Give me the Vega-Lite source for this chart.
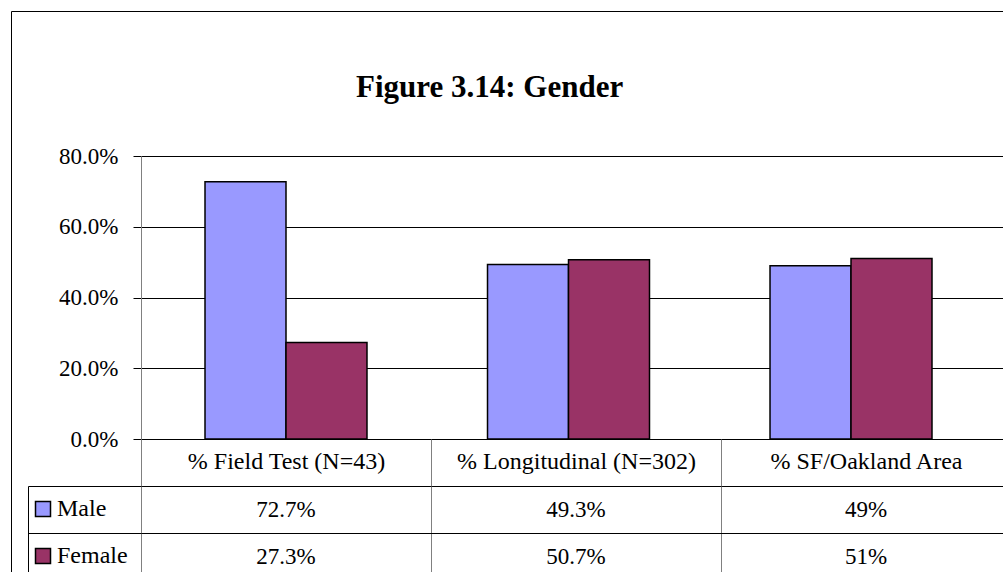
{
  "$schema": "https://vega.github.io/schema/vega-lite/v6.json",
  "background": "white",
  "padding": {"left": 10, "top": 10, "right": 0, "bottom": 0},
  "bounds": "flush",
  "spacing": 47,
  "title": {"text": "Figure 3.14: Gender", "font": "Liberation Serif", "fontSize": 31, "fontWeight": "bold", "color": "black", "anchor": "start", "frame": "group", "dx": 215, "dy": 133, "offset": 40},
  "config": {
    "view": {"stroke": null},
    "font": "Liberation Serif",
    "axis": {"labelFont": "Liberation Serif", "labelColor": "black", "titleFont": "Liberation Serif"},
    "legend": {"labelFont": "Liberation Serif"}
  },
  "data": {"values": [
    {"category": "% Field Test (N=43)", "series": "Male", "value": 0.727, "label": "72.7%"},
    {"category": "% Field Test (N=43)", "series": "Female", "value": 0.273, "label": "27.3%"},
    {"category": "% Longitudinal (N=302)", "series": "Male", "value": 0.493, "label": "49.3%"},
    {"category": "% Longitudinal (N=302)", "series": "Female", "value": 0.507, "label": "50.7%"},
    {"category": "% SF/Oakland Area", "series": "Male", "value": 0.49, "label": "49%"},
    {"category": "% SF/Oakland Area", "series": "Female", "value": 0.51, "label": "51%"}
  ]},
  "resolve": {"scale": {"x": "independent", "y": "independent", "color": "independent"}},
  "vconcat": [
    {
      "width": 870,
      "height": 283,
      "mark": {"type": "bar", "stroke": "black", "strokeWidth": 1.5},
      "encoding": {
        "x": {"field": "category", "type": "nominal", "sort": null,
          "scale": {"paddingInner": 0, "paddingOuter": 0.0398, "align": 0.1667},
          "axis": {"title": null, "orient": "bottom", "labels": false, "ticks": false, "domain": true, "domainColor": "black", "grid": false}},
        "xOffset": {"field": "series", "type": "nominal", "sort": ["Male", "Female"], "scale": {"paddingInner": 0, "paddingOuter": 0.744}},
        "y": {"field": "value", "type": "quantitative",
          "scale": {"domain": [0, 0.8], "nice": false},
          "axis": {"title": null, "values": [0, 0.2, 0.4, 0.6, 0.8], "format": ".1%", "grid": true, "gridColor": "black", "gridOpacity": 1, "domainColor": "#808080", "tickColor": "black", "tickSize": 8, "labelFontSize": 23, "labelColor": "black", "labelPadding": 15}},
        "color": {"field": "series", "type": "nominal", "sort": ["Male", "Female"],
          "scale": {"domain": ["Male", "Female"], "range": ["#9999FF", "#993366"]},
          "legend": {"orient": "none", "legendX": -110, "legendY": 341, "title": null, "symbolType": "square", "symbolSize": 225, "symbolStrokeColor": "black", "symbolStrokeWidth": 1.5, "symbolOpacity": 1, "labelFontSize": 24, "labelColor": "black", "labelOffset": 2, "rowPadding": 23, "padding": 0, "direction": "vertical"}}
      }
    },
    {
      "width": 870,
      "height": 94,
      "mark": {"type": "text", "fontSize": 23, "font": "Liberation Serif", "baseline": "middle"},
      "encoding": {
        "x": {"field": "category", "type": "nominal", "sort": null,
          "scale": {"paddingInner": 0, "paddingOuter": 0},
          "axis": {"title": null, "orient": "top", "labels": true, "labelFontSize": 24, "labelColor": "black", "labelPadding": -22, "labelBaseline": "middle", "labelAngle": 0, "labelLimit": 400, "ticks": true, "tickSize": 47, "tickColor": "#808080", "domain": false, "grid": true, "tickBand": "extent", "gridColor": "#808080", "gridOpacity": 1}},
        "y": {"field": "series", "type": "nominal", "sort": ["Male", "Female"],
          "scale": {"paddingInner": 0, "paddingOuter": 0},
          "axis": {"title": null, "labels": false, "grid": true, "tickBand": "extent", "gridColor": "black", "gridOpacity": 1, "offset": 113, "domain": true, "domainColor": "black", "ticks": true, "tickSize": -113, "tickColor": "black"}},
        "text": {"field": "label"},
        "color": {"field": "value", "type": "quantitative",
          "scale": {"range": ["black", "black"]},
          "legend": {"type": "gradient", "orient": "none", "direction": "horizontal", "legendX": -130, "legendY": -475, "title": null, "labels": false, "gradientLength": 1100, "gradientThickness": 700, "gradientOpacity": 0, "gradientStrokeWidth": 0, "strokeColor": "black", "padding": 0}}
      }
    }
  ]
}
